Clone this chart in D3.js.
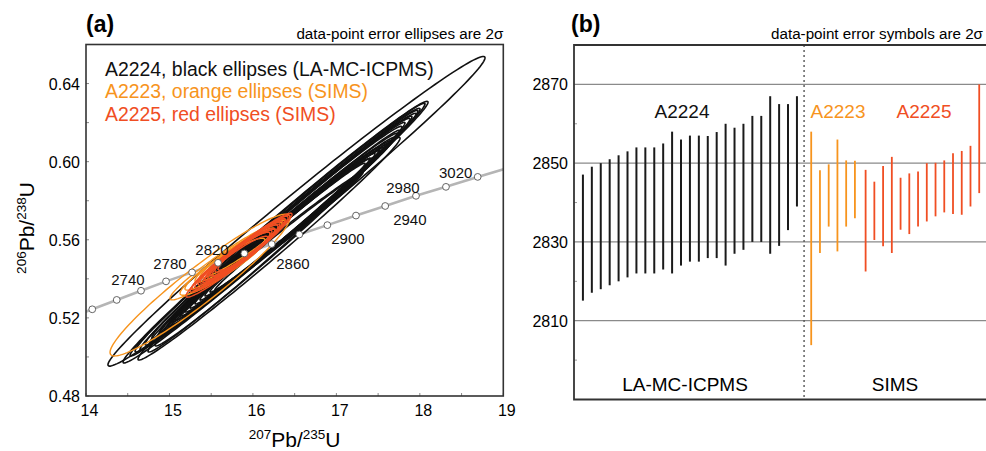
<!DOCTYPE html>
<html>
<head>
<meta charset="utf-8">
<script src="https://cdn.jsdelivr.net/npm/d3@7/dist/d3.min.js"></script>
<style>
    body { margin: 0; background: #fff; }
    svg text { font-family: "Liberation Sans", Arial, sans-serif; }
</style>
</head>
<body>
<div id="chart"></div>
<script>

// ---------- panel (a): concordia ----------
const concAges = [2700, 2720, 2740, 2760, 2780, 2800, 2820, 2840, 2860, 2880, 2900, 2920, 2940, 2960, 2980, 3000, 3020];
const concX = [13.78, 14.075, 14.368, 14.659, 14.959, 15.271, 15.582, 15.897, 16.225, 16.556, 16.892, 17.235, 17.585, 17.954, 18.313, 18.693, 19.08];
const concY = [0.5196, 0.5244, 0.5292, 0.5339, 0.5387, 0.5433, 0.5482, 0.5530, 0.5578, 0.5627, 0.5675, 0.5724, 0.5773, 0.5825, 0.5871, 0.5922, 0.5971];

const concLabels = ['2740', '2780', '2820', '2860', '2900', '2940', '2980', '3020'];
const concLabelX = [14.503, 15.006, 15.510, 16.480, 17.139, 17.88, 17.798, 18.43];
const concLabelY = [0.5398, 0.5480, 0.5552, 0.5480, 0.5608, 0.5706, 0.5869, 0.5947];

// ellipses: [207Pb/235U, 206Pb/238U, 2s(x), 2s(y), rho]
const blackEllipses = [
    [16.522, 0.5746, 2.259, 0.0793, 0.991],
    [16.271, 0.5639, 1.827, 0.0670, 0.993],
    [16.295, 0.5652, 1.767, 0.0647, 0.994],
    [16.295, 0.5649, 1.707, 0.0624, 0.993],
    [16.312, 0.5649, 1.665, 0.0614, 0.994],
    [16.331, 0.5654, 1.624, 0.0593, 0.993],
    [16.336, 0.5652, 1.570, 0.0581, 0.994],
    [16.336, 0.5659, 1.546, 0.0563, 0.993],
    [16.342, 0.5654, 1.480, 0.0547, 0.994],
    [16.336, 0.5654, 1.450, 0.0527, 0.993],
    [16.354, 0.5649, 1.408, 0.0512, 0.994],
    [16.360, 0.5652, 1.378, 0.0494, 0.993],
    [16.366, 0.5652, 1.336, 0.0473, 0.994],
    [16.366, 0.5649, 1.300, 0.0460, 0.993],
    [16.372, 0.5649, 1.246, 0.0440, 0.994],
    [16.384, 0.5652, 1.198, 0.0422, 0.993],
    [16.384, 0.5654, 1.138, 0.0404, 0.994],
    [16.384, 0.5657, 1.078, 0.0386, 0.993],
    [16.384, 0.5654, 1.018, 0.0363, 0.994],
    [16.384, 0.5652, 0.959, 0.0340, 0.993],
    [16.402, 0.5639, 0.917, 0.0307, 0.994],
    [16.193, 0.5554, 1.570, 0.0570, 0.992],
    [16.133, 0.5549, 1.390, 0.0524, 0.992],
    [16.127, 0.5537, 1.300, 0.0481, 0.992],
    [16.414, 0.5636, 0.869, 0.0294, 0.994]
];

const orangeEllipses = [
    [15.366, 0.5368, 1.078, 0.0363, 0.95],
    [15.677, 0.5491, 0.671, 0.0199, 0.96],
    [15.725, 0.5501, 0.539, 0.0159, 0.95],
    [15.755, 0.5511, 0.449, 0.0128, 0.94],
    [15.875, 0.5552, 0.509, 0.0148, 0.96],
    [15.636, 0.5462, 0.509, 0.0146, 0.93]
];

const redEllipses = [
    [15.833, 0.5521, 0.635, 0.0215, 0.97],
    [15.911, 0.5549, 0.509, 0.0171, 0.96],
    [15.785, 0.5511, 0.539, 0.0179, 0.96],
    [15.803, 0.5514, 0.497, 0.0161, 0.95],
    [15.845, 0.5526, 0.419, 0.0133, 0.95],
    [15.935, 0.5562, 0.449, 0.0148, 0.96],
    [15.773, 0.5503, 0.431, 0.0136, 0.94],
    [15.935, 0.5557, 0.389, 0.0123, 0.94],
    [15.821, 0.5508, 0.359, 0.0110, 0.93],
    [15.905, 0.5552, 0.539, 0.0174, 0.97],
    [15.935, 0.5554, 0.425, 0.0141, 0.95],
    [15.749, 0.5496, 0.479, 0.0153, 0.95],
    [15.929, 0.5549, 0.347, 0.0105, 0.93],
    [15.911, 0.5547, 0.485, 0.0159, 0.96]
];

const xTicksA = [14, 15, 16, 17, 18, 19];
const yTicksA = [0.48, 0.52, 0.56, 0.60, 0.64];

// ---------- panel (b): 207Pb/206Pb ages (Ma) with 2s ----------
const ageA2224 = [2831.1, 2833.1, 2834.0, 2835.0, 2836.0, 2837.0, 2838.0, 2838.0, 2838.0, 2839.0, 2840.0, 2840.0, 2841.0,
    2841.0, 2841.4, 2841.9, 2842.0, 2843.0, 2844.0, 2846.0, 2846.0, 2847.0, 2847.0, 2849.0, 2853.0];
const errA2224 = [16.0, 16.0, 16.0, 16.0, 16.0, 16.0, 16.0, 16.0, 16.0, 16.0, 18.0, 16.0, 16.0,
    16.0, 15.5, 16.0, 18.0, 16.0, 16.0, 16.0, 16.0, 20.0, 18.0, 16.0, 14.0];

const ageA2223 = [2830.9, 2837.7, 2841.8, 2841.8, 2842.3, 2843.3];
const errA2223 = [27.1, 10.5, 7.9, 14.2, 8.4, 7.3];

const ageA2225 = [2835.4, 2837.9, 2839.1, 2839.4, 2839.7, 2839.7, 2840.9, 2842.6, 2843.3, 2844.1, 2844.8, 2845.0, 2846.7, 2856.2];
const errA2225 = [12.9, 7.4, 10.2, 12.2, 6.6, 7.7, 7.0, 7.4, 6.8, 6.6, 7.7, 8.1, 7.7, 13.8];

const yTicksB = [2810, 2830, 2850, 2870];
const yMinorB = [2800, 2820, 2840, 2860];

const BLACK = '#111111', ORANGE = '#F7941D', RED = '#F04E23';

const svg = d3.select('#chart').append('svg')
    .attr('width', 986)
    .attr('height', 451);

// ===================== panel (a) =====================
const a = {left: 86, right: 503.3, top: 44.5, bottom: 396};

const x = d3.scaleLinear().domain([14, 19]).range([a.left, a.right]);
const y = d3.scaleLinear().domain([0.48, 0.66]).range([a.bottom, a.top]);

svg.append('defs').append('clipPath')
    .attr('id', 'clipA')
    .append('rect')
    .attr('x', a.left).attr('y', a.top)
    .attr('width', a.right - a.left).attr('height', a.bottom - a.top);

const gA = svg.append('g');

// concordia curve
const line = d3.line().x((d, i) => x(concX[i])).y((d, i) => y(concY[i]));
gA.append('path')
    .attr('clip-path', 'url(#clipA)')
    .attr('d', line(concAges))
    .attr('fill', 'none')
    .attr('stroke', '#b5b5b5')
    .attr('stroke-width', 2.6);

// error ellipses
function ellipsePts(e) {
    const [cx, cy, sx, sy, r] = e;
    const k = Math.sqrt(1 - r * r);
    return d3.range(0, 160).map(i => {
        const t = i / 160 * 2 * Math.PI;
        return [x(cx + sx * Math.cos(t)), y(cy + sy * (r * Math.cos(t) + k * Math.sin(t)))];
    });
}
const closed = d3.line().curve(d3.curveLinearClosed);

function drawEllipses(data, color, w) {
    gA.append('g')
        .attr('clip-path', 'url(#clipA)')
        .selectAll('path')
        .data(data)
        .enter()
        .append('path')
        .attr('d', d => closed(ellipsePts(d)))
        .attr('fill', 'none')
        .attr('stroke', color)
        .attr('stroke-width', w);
}
drawEllipses(blackEllipses, BLACK, 1.6);
drawEllipses(orangeEllipses, ORANGE, 1.4);
drawEllipses(redEllipses, RED, 1.4);

// concordia age markers
gA.append('g')
    .attr('clip-path', 'url(#clipA)')
    .selectAll('circle')
    .data(concAges)
    .enter()
    .append('circle')
    .attr('cx', (d, i) => x(concX[i]))
    .attr('cy', (d, i) => y(concY[i]))
    .attr('r', 3.4)
    .attr('fill', '#fff')
    .attr('stroke', '#555')
    .attr('stroke-width', 0.9);

gA.selectAll('.conc-label')
    .data(concLabels)
    .enter()
    .append('text')
    .attr('class', 'conc-label')
    .attr('x', (d, i) => x(concLabelX[i]))
    .attr('y', (d, i) => y(concLabelY[i]) + 5.5)
    .attr('text-anchor', 'middle')
    .style('font-size', '15px')
    .attr('fill', '#111')
    .text(d => d);

// ticks (inward)
gA.append('g')
    .selectAll('line')
    .data(d3.range(14, 19.01, 0.5))
    .enter()
    .append('line')
    .attr('x1', d => x(d)).attr('x2', d => x(d))
    .attr('y1', a.bottom).attr('y2', a.bottom - 3)
    .attr('stroke', '#888');
gA.append('g')
    .selectAll('line')
    .data(d3.range(0.48, 0.661, 0.02))
    .enter()
    .append('line')
    .attr('x1', a.left).attr('x2', a.left + 3)
    .attr('y1', d => y(d)).attr('y2', d => y(d))
    .attr('stroke', '#888');

// frame
gA.append('rect')
    .attr('x', a.left).attr('y', a.top)
    .attr('width', a.right - a.left).attr('height', a.bottom - a.top)
    .attr('fill', 'none')
    .attr('stroke', '#333')
    .attr('stroke-width', 1.6);

gA.selectAll('.xtick')
    .data(xTicksA)
    .enter()
    .append('text')
    .attr('class', 'xtick')
    .attr('x', d => x(d) + 3.5)
    .attr('y', 416)
    .attr('text-anchor', 'middle')
    .style('font-size', '16px')
    .text(d => d);

gA.selectAll('.ytick')
    .data(yTicksA)
    .enter()
    .append('text')
    .attr('class', 'ytick')
    .attr('x', 80)
    .attr('y', d => y(d) + 6)
    .attr('text-anchor', 'end')
    .style('font-size', '16px')
    .text(d => d.toFixed(2));

// axis titles
const xt = gA.append('text')
    .attr('x', (a.left + a.right) / 2)
    .attr('y', 447)
    .attr('text-anchor', 'middle')
    .style('font-size', '21px');
xt.append('tspan').attr('dy', -8).style('font-size', '13.5px').text('207');
xt.append('tspan').attr('dy', 8).text('Pb/');
xt.append('tspan').attr('dy', -8).style('font-size', '13.5px').text('235');
xt.append('tspan').attr('dy', 8).text('U');

const yt = gA.append('text')
    .attr('transform', 'translate(34, 228) rotate(-90)')
    .attr('text-anchor', 'middle')
    .style('font-size', '21px');
yt.append('tspan').attr('dy', -8).style('font-size', '13.5px').text('206');
yt.append('tspan').attr('dy', 8).text('Pb/');
yt.append('tspan').attr('dy', -8).style('font-size', '13.5px').text('238');
yt.append('tspan').attr('dy', 8).text('U');

// legend
const legendA = [['A2224, black ellipses (LA-MC-ICPMS)', BLACK], ['A2223, orange ellipses (SIMS)', ORANGE], ['A2225, red ellipses (SIMS)', RED]];
gA.selectAll('.leg')
    .data(legendA)
    .enter()
    .append('text')
    .attr('class', 'leg')
    .attr('x', 105)
    .attr('y', (d, i) => 76 + i * 22.4)
    .style('font-size', '19.4px')
    .attr('fill', d => d[1])
    .text(d => d[0]);

gA.append('text')
    .attr('x', 86).attr('y', 32)
    .style('font-size', '23px').style('font-weight', 'bold')
    .text('(a)');
gA.append('text')
    .attr('x', a.right).attr('y', 39)
    .attr('text-anchor', 'end')
    .style('font-size', '15.2px')
    .text('data-point error ellipses are 2\u03c3');

// ===================== panel (b) =====================
const b = {left: 574, right: 986, top: 45, bottom: 399.5};

const yb = d3.scaleLinear().domain([2790, 2880]).range([b.bottom, b.top]);
const xb = d3.scaleLinear().domain([-1, 45.2]).range([b.left, b.right]);

const gB = svg.append('g');

gB.selectAll('.grid')
    .data(yTicksB)
    .enter()
    .append('line')
    .attr('class', 'grid')
    .attr('x1', b.left).attr('x2', b.right)
    .attr('y1', d => yb(d)).attr('y2', d => yb(d))
    .attr('stroke', '#8a8a8a')
    .attr('stroke-width', 1.3);

gB.selectAll('.minor')
    .data(yMinorB)
    .enter()
    .append('line')
    .attr('class', 'minor')
    .attr('x1', b.left).attr('x2', b.left + 3)
    .attr('y1', d => yb(d)).attr('y2', d => yb(d))
    .attr('stroke', '#999');

// divider between methods
gB.append('line')
    .attr('x1', xb(24.8)).attr('x2', xb(24.8))
    .attr('y1', b.top).attr('y2', b.bottom)
    .attr('stroke', '#555')
    .attr('stroke-width', 1.4)
    .attr('stroke-dasharray', '2,3');

function drawBars(ages, errs, offset, step, color, w) {
    gB.append('g')
        .selectAll('line')
        .data(ages)
        .enter()
        .append('line')
        .attr('x1', (d, i) => xb(offset + i * step))
        .attr('x2', (d, i) => xb(offset + i * step))
        .attr('y1', (d, i) => yb(d + errs[i]))
        .attr('y2', (d, i) => yb(d - errs[i]))
        .attr('stroke', color)
        .attr('stroke-width', w);
}
drawBars(ageA2224, errA2224, 0, 1, '#1a1a1a', 2);
drawBars(ageA2223, errA2223, 25.6, 0.98, ORANGE, 1.8);
drawBars(ageA2225, errA2225, 31.7, 0.98, RED, 1.8);

// frame (left, top, bottom)
gB.append('path')
    .attr('d', `M${b.right},${b.top}H${b.left}V${b.bottom}H${b.right}`)
    .attr('fill', 'none')
    .attr('stroke', '#333')
    .attr('stroke-width', 1.8);

gB.selectAll('.ytickb')
    .data(yTicksB)
    .enter()
    .append('text')
    .attr('class', 'ytickb')
    .attr('x', 568)
    .attr('y', d => yb(d) + 6)
    .attr('text-anchor', 'end')
    .style('font-size', '16px')
    .text(d => d);

const labelsB = [['A2224', 682, '#111'], ['A2223', 838, ORANGE], ['A2225', 924, RED]];
gB.selectAll('.samp')
    .data(labelsB)
    .enter()
    .append('text')
    .attr('class', 'samp')
    .attr('x', d => d[1])
    .attr('y', 118)
    .attr('text-anchor', 'middle')
    .style('font-size', '19px')
    .attr('fill', d => d[2])
    .text(d => d[0]);

gB.append('text')
    .attr('x', 685).attr('y', 391)
    .attr('text-anchor', 'middle')
    .style('font-size', '19px')
    .text('LA-MC-ICPMS');
gB.append('text')
    .attr('x', 895).attr('y', 391)
    .attr('text-anchor', 'middle')
    .style('font-size', '19px')
    .text('SIMS');

gB.append('text')
    .attr('x', 571).attr('y', 32)
    .style('font-size', '23px').style('font-weight', 'bold')
    .text('(b)');
gB.append('text')
    .attr('x', 983).attr('y', 39)
    .attr('text-anchor', 'end')
    .style('font-size', '15.2px')
    .text('data-point error symbols are 2\u03c3');

</script>
</body>
</html>
